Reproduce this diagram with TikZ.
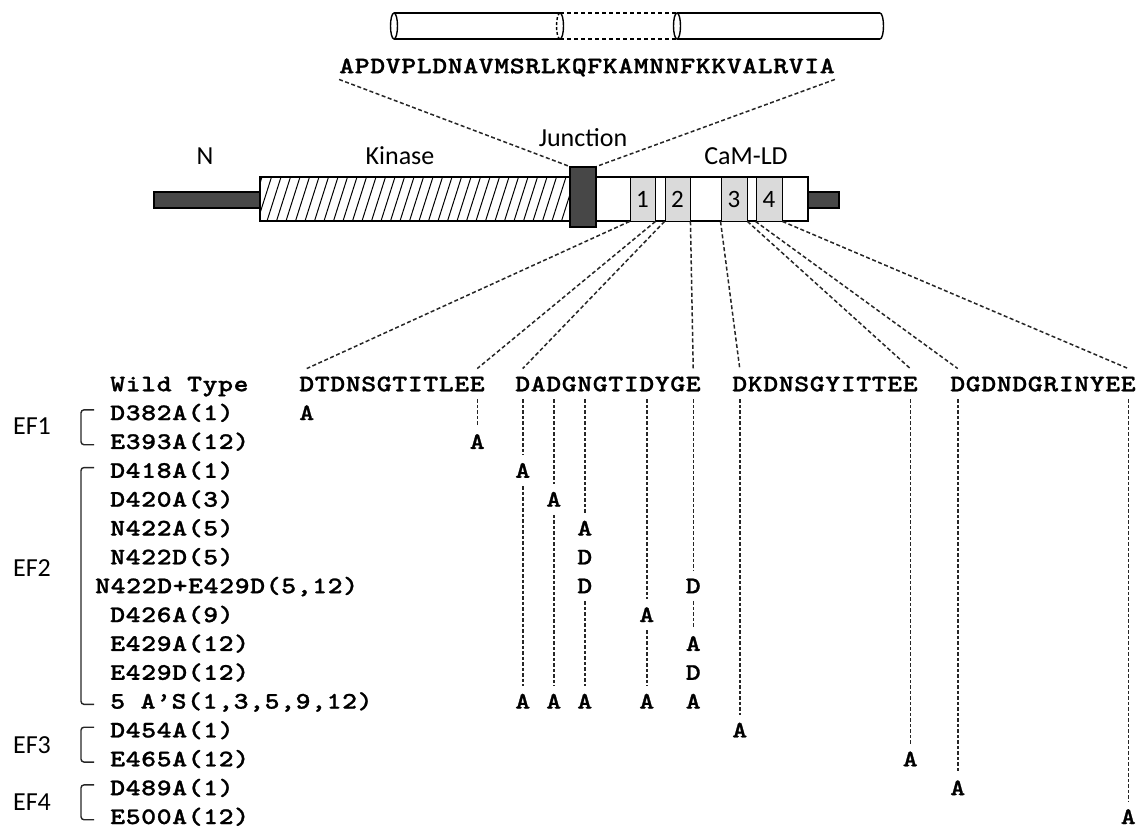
\documentclass[tikz,border=0pt]{standalone}
\usepackage{fontspec}
\setmainfont{Carlito}
\newfontfamily\seqfont{lmmonolt10-bold.otf}[FakeStretch=1.2,FakeBold=1,LetterSpace=2.4]
\newfontfamily\resfont{lmmonolt10-bold.otf}[FakeStretch=1.2,FakeBold=1]
\usetikzlibrary{positioning}
\definecolor{bardark}{HTML}{474747}
\definecolor{boxgray}{HTML}{DADADA}
\definecolor{linegray}{HTML}{262626}

\begin{document}
\begin{tikzpicture}[x=1pt,y=-1pt,
    seq/.style={font=\seqfont\fontsize{23.7}{26}\selectfont,anchor=west,inner sep=0pt,text height=14.5pt,text depth=0pt},
    res/.style={font=\resfont\fontsize{23.7}{26}\selectfont,inner xsep=0pt,inner ysep=8pt,text height=14.5pt,text depth=0pt},
    lab/.style={font=\fontsize{26}{30}\selectfont,inner sep=0pt},
    bar/.style={draw=black,line width=1.2pt,fill=bardark,inner sep=0pt},
    dombox/.style={draw=black,line width=1.3pt,fill=white,inner sep=0pt,minimum height=44pt},
    efbox/.style={draw=black,line width=0.9pt,fill=boxgray,inner sep=0pt,minimum height=44pt,font=\fontsize{25}{27}\selectfont},
    fan/.style={draw=linegray,line width=1.5pt,dash pattern=on 4pt off 2.5pt},
    drop/.style={draw=linegray,line width=1.5pt,dash pattern=on 3.5pt off 2pt},
    brk/.style={draw=linegray,line width=1.4pt,rounded corners=3pt},
    helix/.style={line width=1.4pt}]

  \useasboundingbox (0,0) rectangle (1141,829);

  % helix cylinders over the junction
  \draw[helix] (394,26) ellipse (3.5 and 13);
  \draw[helix] (394,13) -- (560,13) (394,39) -- (560,39);
  \draw[helix] (560,13) arc (-90:90:3.5 and 13);
  \draw[helix,dash pattern=on 3pt off 2pt] (560,13) arc (270:90:3.5 and 13);
  \draw[helix,dash pattern=on 4pt off 3pt] (560,13) -- (677,13) (560,39) -- (677,39);
  \draw[helix] (677,26) ellipse (3.5 and 13);
  \draw[helix] (677,13) -- (880,13) (677,39) -- (880,39);
  \draw[helix] (880,13) arc (-90:90:3.5 and 13);
  \node[seq,anchor=center,inner ysep=6pt] (helixseq) at (587,66) {APDVPLDNAVMSRLKQFKAMNNFKKVALRVIA};

  % domain bar
  \node[bar,minimum width=106pt,minimum height=16pt] (nterm) at (207,200) {};
  \node[dombox,minimum width=312pt] (kinase) at (416,199) {};
  \begin{scope}
    \clip (kinase.south west) rectangle (kinase.north east);
    \foreach \hx in {248,257.5,...,575}
      \draw[line width=1pt] (\hx,221) -- ++(14,-44);
  \end{scope}
  \draw[line width=1.3pt] (kinase.south west) rectangle (kinase.north east);
  \node[dombox,minimum width=212pt] (camld) at (702,199) {};
  \foreach \ex/\ew [count=\n] in {642.5/25,677.5/25,734/26,769/26}
    \node[efbox,minimum width=\ew pt] (ef\n) at (\ex,199) {\n};
  \node[bar,minimum width=31pt,minimum height=16pt] (cterm) at (823.5,200) {};
  \node[bar,minimum width=26pt,minimum height=60pt] (junc) at (583,197) {};

  \node[lab] (nlab) at (205,156) {N};
  \node[lab] (kinlab) at (400,156) {Kinase};
  \node[lab] (junclab) at (583,138) {Junction};
  \node[lab] (camlab) at (746,156) {CaM-LD};

  \draw[fan] (helixseq.south west) -- (junc.north west);
  \draw[fan] (helixseq.south east) -- (junc.north east);

  % wild type EF-hand loops
  \node[seq] (wt) at (110,384) {Wild Type};
  \foreach \c [count=\j] in {D,T,D,N,S,G,T,I,T,L,E,E}
    \node[res] (s1p\j) at ({299+15.5*(\j-0.5)},384) {\c};
  \foreach \c [count=\j] in {D,A,D,G,N,G,T,I,D,Y,G,E}
    \node[res] (s2p\j) at ({515+15.5*(\j-0.5)},384) {\c};
  \foreach \c [count=\j] in {D,K,D,N,S,G,Y,I,T,T,E,E}
    \node[res] (s3p\j) at ({732+15.5*(\j-0.5)},384) {\c};
  \foreach \c [count=\j] in {D,G,D,N,D,G,R,I,N,Y,E,E}
    \node[res] (s4p\j) at ({950+15.5*(\j-0.5)},384) {\c};

  \foreach \n in {1,2,3,4} {
    \draw[fan] (ef\n.south west) -- (s\n p1.north);
    \draw[fan] (ef\n.south east) -- (s\n p12.north);
  }

  % mutants
  \foreach \lx/\lbl [count=\i] in {110/D382A(1),110/E393A(12),110/D418A(1),110/D420A(3),
      110/N422A(5),110/N422D(5),95/{N422D+E429D(5,12)},110/D426A(9),110/E429A(12),
      110/E429D(12),110/{5 A’S(1,3,5,9,12)},110/D454A(1),110/E465A(12),110/D489A(1),110/E500A(12)}
    \node[seq] (m\i) at (\lx,{384+28.85*\i}) {\lbl};

  \foreach \r/\k/\p/\c in {1/1/1/A,2/1/12/A,3/2/1/A,4/2/3/A,5/2/5/A,6/2/5/D,7/2/5/D,7/2/12/D,
      8/2/9/A,9/2/12/A,10/2/12/D,11/2/1/A,11/2/3/A,11/2/5/A,11/2/9/A,11/2/12/A,
      12/3/1/A,13/3/12/A,14/4/1/A,15/4/12/A}
    \node[res] (r\r s\k p\p) at (s\k p\p |- m\r) {\c};

  \foreach \a/\b in {s1p12/r2s1p12,s2p1/r3s2p1,r3s2p1/r11s2p1,s2p3/r4s2p3,r4s2p3/r11s2p3,
      s2p5/r5s2p5,r7s2p5/r11s2p5,s2p9/r8s2p9,r8s2p9/r11s2p9,s2p12/r7s2p12,r7s2p12/r9s2p12,
      s3p1/r12s3p1,s3p12/r13s3p12,s4p1/r14s4p1,s4p12/r15s4p12}
    \draw[drop] (\a.south) -- (\b.north);

  % EF-hand groups
  \foreach \ta/\tb in {1/2,3/11,12/13,14/15}
    \draw[brk] ([xshift=-16pt,yshift=3pt]m\ta.west) -- ++(-13,0) |- ([xshift=-16pt,yshift=-3pt]m\tb.west);
  \node[lab] (efa) at (32,426) {EF1};
  \node[lab] (efb) at (32,568) {EF2};
  \node[lab] (efc) at (32,745) {EF3};
  \node[lab] (efd) at (32,802) {EF4};
\end{tikzpicture}
\end{document}
